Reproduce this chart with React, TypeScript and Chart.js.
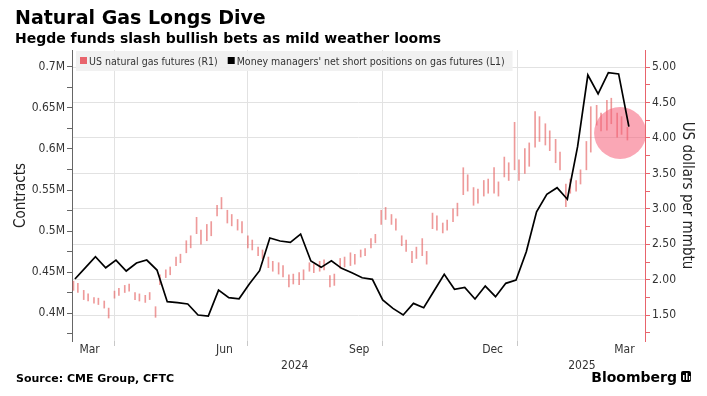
import React, { useEffect, useRef } from "react";
import { Chart, registerables } from "chart.js";

Chart.register(...registerables);

// ---------- texts ----------
const TITLE = "Natural Gas Longs Dive";
const SUBTITLE = "Hegde funds slash bullish bets as mild weather looms";
const SOURCE = "Source: CME Group, CFTC";
const BRAND = "Bloomberg";
const PRICE_LABEL = "US natural gas futures (R1)";
const POSITION_LABEL = "Money managers' net short positions on gas futures (L1)";
const LEFT_TITLE = "Contracts";
const RIGHT_TITLE = "US dollars per mmbtu";

// ---------- axis / tick definitions ----------
const X_MIN_DATE = "2024-03-03";
const X_MAX_DATE = "2025-03-29";
const QUARTER_DATES = ["2024-04-01", "2024-07-01", "2024-10-01", "2025-01-01"];
const MONTH_LABELS = ["Mar", "Jun", "Sep", "Dec", "Mar"];
const MONTH_LABEL_DATES = ["2024-03-15", "2024-06-15", "2024-09-15", "2024-12-15", "2025-03-15"];
const YEAR_LABELS = ["2024", "2025"];
const YEAR_LABEL_DATES = ["2024-08-02", "2025-02-14"];

const LEFT_MIN = 365900;
const LEFT_MAX = 720700;
const LEFT_TICKS = [375000, 400000, 425000, 450000, 475000, 500000, 525000, 550000, 575000, 600000, 625000, 650000, 675000, 700000];
const RIGHT_MIN = 1.136;
const RIGHT_MAX = 5.24;
const RIGHT_TICKS = [1.25, 1.5, 1.75, 2.0, 2.25, 2.5, 2.75, 3.0, 3.25, 3.5, 3.75, 4.0, 4.25, 4.5, 4.75, 5.0];

// ---------- money managers' positions (weekly, contracts) ----------
const POSITION_DATES = [
  "2024-03-05", "2024-03-12", "2024-03-19", "2024-03-26", "2024-04-02", "2024-04-09", "2024-04-16",
  "2024-04-23", "2024-04-30", "2024-05-07", "2024-05-14", "2024-05-21", "2024-05-28", "2024-06-04",
  "2024-06-11", "2024-06-18", "2024-06-25", "2024-07-02", "2024-07-09", "2024-07-16", "2024-07-23",
  "2024-07-30", "2024-08-06", "2024-08-13", "2024-08-20", "2024-08-27", "2024-09-03", "2024-09-10",
  "2024-09-17", "2024-09-24", "2024-10-01", "2024-10-08", "2024-10-15", "2024-10-22", "2024-10-29",
  "2024-11-05", "2024-11-12", "2024-11-19", "2024-11-26", "2024-12-03", "2024-12-10", "2024-12-17",
  "2024-12-24", "2024-12-31", "2025-01-07", "2025-01-14", "2025-01-21", "2025-01-28", "2025-02-04",
  "2025-02-11", "2025-02-18", "2025-02-25", "2025-03-04", "2025-03-11", "2025-03-18",
];
const POSITION_VALUES = [
  441500, 455000, 468700, 455200, 464600, 451200, 461000,
  464600, 452400, 413800, 412600, 411000, 397600, 396300,
  428000, 418700, 417400, 435400, 451600, 491500, 487800,
  486200, 496300, 463400, 455700, 463800, 454500, 449100,
  443000, 441100, 415900, 405700, 397600, 411800, 406500,
  426800, 447200, 428900, 431300, 417100, 432900, 419900,
  436200, 440200, 474800, 523500, 544800, 552800, 538700,
  602800, 690200, 667100, 693000, 691500, 627200,
];

// ---------- gas futures (sessions on Mondays and Thursdays) ----------
const PRICE_FIRST_MONDAY = "2024-03-04";
const PRICE_SESSION_OFFSETS = [0, 3];
const PRICE_LOW = [
  1.85, 1.82, 1.72, 1.70, 1.67, 1.65, 1.60, 1.46, 1.74, 1.78,
  1.82, 1.84, 1.72, 1.70, 1.68, 1.72, 1.47, 1.93, 2.03, 2.07,
  2.20, 2.24, 2.38, 2.45, 2.65, 2.50, 2.55, 2.62, 2.90, 3.00,
  2.80, 2.76, 2.70, 2.66, 2.45, 2.42, 2.34, 2.30, 2.17, 2.12,
  2.08, 2.04, 1.90, 1.94, 1.93, 2.00, 2.12, 2.10, 2.12, 2.14,
  1.90, 1.92, 2.16, 2.18, 2.20, 2.22, 2.32, 2.34, 2.45, 2.52,
  2.78, 2.85, 2.78, 2.70, 2.48, 2.40, 2.24, 2.30, 2.34, 2.22,
  2.72, 2.70, 2.66, 2.70, 2.82, 2.90, 3.20, 3.25, 3.05, 3.08,
  3.18, 3.22, 3.22, 3.18, 3.45, 3.40, 3.55, 3.40, 3.50, 3.60,
  3.87, 3.95, 3.90, 3.82, 3.65, 3.55, 3.03, 3.22, 3.25, 3.35,
  3.55, 3.80, 4.18, 4.10, 4.11, 4.20, 4.01, 4.05, 3.97,
];
const PRICE_HIGH = [
  1.98, 1.95, 1.85, 1.80, 1.75, 1.74, 1.70, 1.60, 1.84, 1.88,
  1.92, 1.94, 1.82, 1.80, 1.78, 1.82, 1.62, 2.07, 2.14, 2.18,
  2.32, 2.36, 2.55, 2.62, 2.88, 2.70, 2.78, 2.82, 3.05, 3.16,
  2.98, 2.92, 2.85, 2.82, 2.62, 2.56, 2.46, 2.42, 2.32, 2.26,
  2.24, 2.20, 2.07, 2.08, 2.10, 2.14, 2.24, 2.22, 2.26, 2.28,
  2.06, 2.08, 2.30, 2.32, 2.38, 2.36, 2.42, 2.44, 2.58, 2.64,
  2.98, 3.02, 2.92, 2.86, 2.62, 2.56, 2.40, 2.46, 2.58, 2.40,
  2.94, 2.90, 2.80, 2.84, 3.00, 3.08, 3.58, 3.48, 3.30, 3.28,
  3.40, 3.42, 3.58, 3.38, 3.73, 3.65, 4.22, 3.69, 3.85, 3.93,
  4.37, 4.30, 4.20, 4.10, 3.98, 3.80, 3.35, 3.42, 3.40, 3.55,
  3.95, 4.44, 4.46, 4.35, 4.53, 4.56, 4.35, 4.30, 4.15,
];

// highlight circle (annotation)
const CIRCLE_DATE = "2025-03-12";
const CIRCLE_PRICE = 4.07;

// ---------- helpers ----------
const DAY0 = Date.UTC(2024, 0, 1);
const dayNum = (s: string) => (Date.parse(s + "T00:00:00Z") - DAY0) / 86400000;

const FONT_COND = '"DejaVu Sans Condensed", "DejaVu Sans", sans-serif';
const FONT_BOLD = '"DejaVu Sans", Verdana, sans-serif';
const RED = "#e8646c";
const BAR_RED = "rgba(228,92,92,0.62)";

function buildPriceData() {
  const start = dayNum(PRICE_FIRST_MONDAY);
  const out: { x: number; y: [number, number] }[] = [];
  for (let i = 0; i < PRICE_LOW.length; i++) {
    const week = Math.floor(i / PRICE_SESSION_OFFSETS.length);
    const off = PRICE_SESSION_OFFSETS[i % PRICE_SESSION_OFFSETS.length];
    out.push({ x: start + week * 7 + off, y: [PRICE_LOW[i], PRICE_HIGH[i]] });
  }
  return out;
}

const decorPlugin = {
  id: "decor",
  afterDraw(chart: any) {
    const ctx: CanvasRenderingContext2D = chart.ctx;
    const xs = chart.scales.x;
    ctx.save();
    ctx.textBaseline = "alphabetic";
    // titles
    ctx.fillStyle = "#000";
    ctx.textAlign = "left";
    ctx.font = `bold 19px ${FONT_BOLD}`;
    ctx.fillText(TITLE, 15, 24);
    ctx.font = `bold 14px ${FONT_BOLD}`;
    ctx.fillText(SUBTITLE, 15, 43);

    // legend
    ctx.font = `10.5px ${FONT_COND}`;
    const w1 = ctx.measureText(PRICE_LABEL).width;
    const w2 = ctx.measureText(POSITION_LABEL).width;
    const lx = 76;
    const boxW = 4 + 9 + w1 + 10 + 9 + w2 + 8;
    ctx.fillStyle = "rgba(240,240,240,0.92)";
    ctx.fillRect(lx, 51, boxW, 20);
    let cx = lx + 4;
    ctx.fillStyle = RED;
    ctx.fillRect(cx, 57, 7, 7);
    ctx.fillStyle = "#333";
    ctx.fillText(PRICE_LABEL, cx + 9, 65);
    cx = cx + 9 + w1 + 10;
    ctx.fillStyle = "#000";
    ctx.fillRect(cx, 57, 7, 7);
    ctx.fillStyle = "#333";
    ctx.fillText(POSITION_LABEL, cx + 9, 65);

    // month and year labels
    ctx.textAlign = "center";
    ctx.font = `12px ${FONT_COND}`;
    ctx.fillStyle = "#333";
    MONTH_LABELS.forEach((m, i) => {
      ctx.fillText(m, xs.getPixelForValue(dayNum(MONTH_LABEL_DATES[i])), 353);
    });
    YEAR_LABELS.forEach((y, i) => {
      ctx.fillText(y, xs.getPixelForValue(dayNum(YEAR_LABEL_DATES[i])), 369);
    });

    // footer
    ctx.textAlign = "left";
    ctx.fillStyle = "#000";
    ctx.font = `bold 11px ${FONT_BOLD}`;
    ctx.fillText(SOURCE, 16, 382);
    ctx.textAlign = "right";
    ctx.font = `bold 14px ${FONT_BOLD}`;
    ctx.fillText(BRAND, 677, 382);
    // small logo
    ctx.fillStyle = "#000";
    ctx.beginPath();
    (ctx as any).roundRect ? (ctx as any).roundRect(681, 371, 10, 11, 2) : ctx.rect(681, 371, 10, 11);
    ctx.fill();
    ctx.fillStyle = "#fff";
    ctx.fillRect(683, 375, 1.5, 5);
    ctx.fillRect(686, 373, 1.5, 7);
    ctx.fillRect(689, 376, 1.2, 4);
    ctx.restore();
  },
};

export default function App() {
  const ref = useRef<HTMLCanvasElement | null>(null);
  useEffect(() => {
    if (!ref.current) return;
    const priceData = buildPriceData();
    const posData = POSITION_DATES.map((d, i) => ({ x: dayNum(d), y: POSITION_VALUES[i] }));
    const chart = new Chart(ref.current, {
      type: "line",
      data: {
        datasets: [
          {
            type: "line",
            label: POSITION_LABEL,
            data: posData,
            xAxisID: "x",
            yAxisID: "yL",
            borderColor: "#000",
            borderWidth: 1.7,
            pointRadius: 0,
            tension: 0,
            order: 0,
          } as any,
          {
            type: "line",
            label: "highlight",
            data: [{ x: dayNum(CIRCLE_DATE), y: CIRCLE_PRICE }],
            xAxisID: "x",
            yAxisID: "yR",
            showLine: false,
            pointRadius: 26,
            pointBorderWidth: 0,
            pointBackgroundColor: "rgba(245,95,120,0.55)",
            borderColor: "rgba(0,0,0,0)",
            order: 1,
          } as any,
          {
            type: "bar",
            label: PRICE_LABEL,
            data: priceData,
            xAxisID: "x",
            yAxisID: "yR",
            backgroundColor: BAR_RED,
            barThickness: 1,
            borderWidth: 0,
            order: 2,
          } as any,
        ],
      },
      options: {
        responsive: false,
        devicePixelRatio: 1,
        animation: false,
        events: [],
        layout: { padding: { top: 50, left: 0, right: 0, bottom: 0 } },
        plugins: { legend: { display: false }, tooltip: { enabled: false }, title: { display: false } },
        scales: {
          x: {
            type: "linear",
            position: "bottom",
            min: dayNum(X_MIN_DATE),
            max: dayNum(X_MAX_DATE),
            offset: false,
            border: { display: false },
            grid: { offset: false, color: "#e2e2e2", lineWidth: 1, tickLength: 5, tickColor: "#c8c8c8", drawTicks: true },
            ticks: { display: false },
            afterBuildTicks: (s: any) => {
              s.ticks = QUARTER_DATES.map((d) => ({ value: dayNum(d) }));
            },
            afterFit: (s: any) => {
              s.height = 55;
            },
          },
          yL: {
            type: "linear",
            position: "left",
            min: LEFT_MIN,
            max: LEFT_MAX,
            border: { display: true, color: "#666", width: 1 },
            grid: { drawOnChartArea: false, tickLength: 5, color: "#666", tickColor: "#666" },
            ticks: {
              color: "#333",
              padding: 2,
              font: { family: FONT_COND, size: 12 },
              callback: (v: any) => (Math.round(v) % 50000 === 0 ? `${+(v / 1e6).toFixed(2)}M` : ""),
            },
            afterBuildTicks: (s: any) => {
              s.ticks = LEFT_TICKS.map((v) => ({ value: v }));
            },
            afterFit: (s: any) => {
              s.width = 72;
            },
            title: {
              display: true,
              text: LEFT_TITLE,
              color: "#222",
              font: { family: FONT_COND, size: 15 },
              padding: { top: 12, bottom: 0 },
            },
          },
          yR: {
            type: "linear",
            position: "right",
            min: RIGHT_MIN,
            max: RIGHT_MAX,
            border: { display: true, color: RED, width: 1 },
            grid: {
              drawOnChartArea: true,
              tickLength: 5,
              color: (c: any) =>
                c.tick && Math.abs((c.tick.value * 2) % 1) < 1e-6 ? "#e2e2e2" : "rgba(0,0,0,0)",
              tickColor: RED,
            },
            ticks: {
              color: "#333",
              padding: 2,
              font: { family: FONT_COND, size: 12 },
              callback: (v: any) => (Math.abs((v * 2) % 1) < 1e-6 ? Number(v).toFixed(2) : ""),
            },
            afterBuildTicks: (s: any) => {
              s.ticks = RIGHT_TICKS.map((v) => ({ value: v }));
            },
            afterFit: (s: any) => {
              s.width = 62;
            },
            title: {
              display: true,
              text: RIGHT_TITLE,
              color: "#222",
              font: { family: FONT_COND, size: 15 },
              padding: { top: 11, bottom: 0 },
            },
          },
        },
      } as any,
      plugins: [decorPlugin],
    });
    return () => chart.destroy();
  }, []);

  return (
    <div style={{ position: "fixed", left: 0, top: 0, width: 707, height: 396, background: "#fff" }}>
      <canvas ref={ref} width={707} height={396} style={{ width: 707, height: 396, display: "block" }} />
    </div>
  );
}
